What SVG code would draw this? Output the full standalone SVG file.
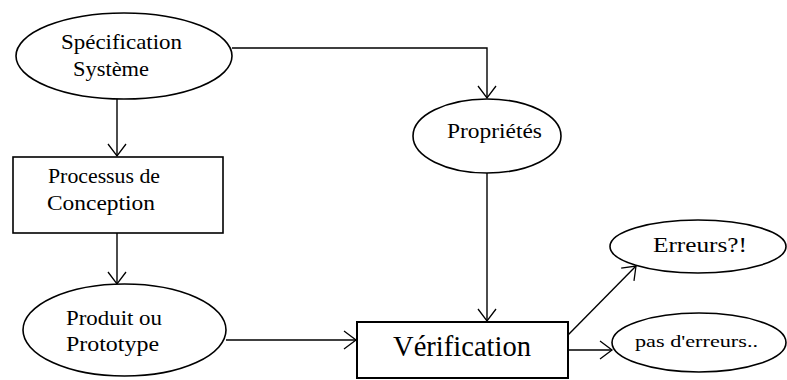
<svg xmlns="http://www.w3.org/2000/svg" width="787" height="380" viewBox="0 0 787 380">
  <style>
    .shape { fill: #ffffff; stroke: #000000; stroke-width: 1.6; }
    .link { fill: none; stroke: #000000; stroke-width: 1.4; marker-end: url(#open); }
    .label { font-family: "Liberation Serif", "Times New Roman", serif; font-size: 21px; fill: #000000; }
    .big { font-size: 30px; }
    .small { font-size: 17px; }
  </style>
  <defs>
    <marker id="open" markerUnits="userSpaceOnUse" viewBox="-14 -10 16 20" refX="0" refY="0" markerWidth="16" markerHeight="20" orient="auto">
      <path d="M -12,-9 L 0,0 L -12,9" fill="none" stroke="#000000" stroke-width="1.3"/>
    </marker>
  </defs>

  <g id="connectors">
    <polyline class="link" points="232,48 487,48 487,98"/>
    <line class="link" x1="117" y1="99" x2="117" y2="156"/>
    <line class="link" x1="117" y1="233" x2="117" y2="284"/>
    <line class="link" x1="226" y1="340" x2="356" y2="340"/>
    <line class="link" x1="487" y1="173" x2="487" y2="321"/>
    <line class="link" x1="568" y1="335" x2="636" y2="266"/>
    <line class="link" x1="568" y1="350" x2="612" y2="350"/>
  </g>

  <g id="specification">
    <ellipse class="shape" cx="124" cy="56" rx="108" ry="43"/>
    <text class="label" x="61" y="49" textLength="121" lengthAdjust="spacingAndGlyphs">Spécification</text>
    <text class="label" x="73" y="76" textLength="76" lengthAdjust="spacingAndGlyphs">Système</text>
  </g>

  <g id="processus">
    <rect class="shape" x="13" y="157" width="210" height="76"/>
    <text class="label" x="48" y="183" textLength="112" lengthAdjust="spacingAndGlyphs">Processus de</text>
    <text class="label" x="47" y="210" textLength="108" lengthAdjust="spacingAndGlyphs">Conception</text>
  </g>

  <g id="produit">
    <ellipse class="shape" cx="124.5" cy="330" rx="101.5" ry="46"/>
    <text class="label" x="66" y="325" textLength="96" lengthAdjust="spacingAndGlyphs">Produit ou</text>
    <text class="label" x="66" y="351" textLength="93" lengthAdjust="spacingAndGlyphs">Prototype</text>
  </g>

  <g id="proprietes">
    <ellipse class="shape" cx="487" cy="136" rx="74" ry="37"/>
    <text class="label" x="447" y="138" textLength="95" lengthAdjust="spacingAndGlyphs">Propriétés</text>
  </g>

  <g id="verification">
    <rect class="shape" x="357" y="322" width="211" height="56" style="stroke-width:2"/>
    <text class="label big" x="393" y="356" textLength="138" lengthAdjust="spacingAndGlyphs">Vérification</text>
  </g>

  <g id="erreurs">
    <ellipse class="shape" cx="698" cy="246.5" rx="88" ry="26.5"/>
    <text class="label" x="653" y="252" textLength="94" lengthAdjust="spacingAndGlyphs">Erreurs?!</text>
  </g>

  <g id="pas-erreurs">
    <ellipse class="shape" cx="699" cy="342.5" rx="87" ry="29.5"/>
    <text class="label small" x="635" y="347" textLength="123" lengthAdjust="spacingAndGlyphs">pas d'erreurs..</text>
  </g>
</svg>
